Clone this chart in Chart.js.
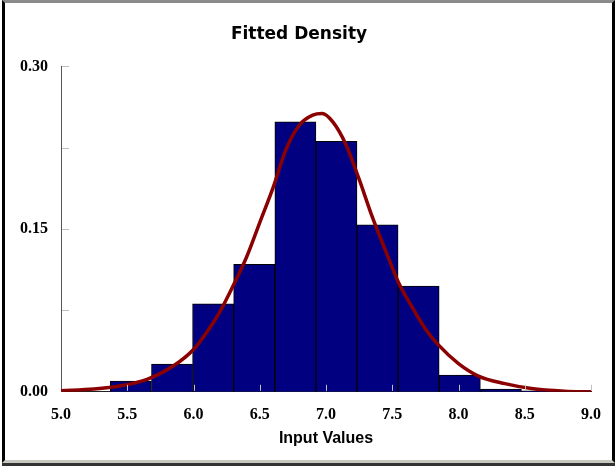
<!DOCTYPE html>
<html lang="en">
<head>
    <meta charset="UTF-8">
    <title>Fitted Density</title>
    <style>
        body {
            margin: 0;
            background: #fff;
        }
        .wrap {
            position: relative;
            width: 615px;
            height: 471px;
        }
        .frame {
            position: absolute;
            left: 2px;
            top: 0;
            width: 607px;
            height: 457px;
            border-left: 3px solid #000;
            border-right: 3px solid #000;
            border-top: 3px solid #8a8a8a;
            border-bottom: 3px solid #c8c8c0;
            box-shadow: 0 3px 0 #333;
            pointer-events: none;
        }
    </style>
</head>
<body>
    <div class="wrap">
        <canvas id="chart" width="615" height="471"></canvas>
        <div class="frame"></div>
    </div>

    <script src="https://cdn.jsdelivr.net/npm/chart.js"></script>
    <script>
        // histogram bins (centres) and relative frequencies
        const binCenters = [5.527, 5.838, 6.148, 6.458, 6.769, 7.079, 7.389, 7.699, 8.010, 8.320, 8.630];
        const binHeights = [0.0099, 0.0256, 0.081, 0.1176, 0.249, 0.231, 0.154, 0.0975, 0.0154, 0.0025, 0.0008];

        // fitted curve
        const curveX = [5.0, 5.25, 5.45, 5.65, 5.85, 6.0, 6.1, 6.2, 6.3, 6.4, 6.5, 6.6, 6.7, 6.8, 6.9, 6.97,
                        7.05, 7.15, 7.25, 7.35, 7.45, 7.55, 7.65, 7.75, 7.85, 8.0, 8.15, 8.35, 8.55, 8.8, 9.0];
        const curveY = [0.001, 0.0025, 0.0055, 0.0115, 0.024, 0.039, 0.055, 0.074, 0.098, 0.124, 0.156, 0.188, 0.224, 0.246, 0.255, 0.2565,
                        0.249, 0.228, 0.196, 0.161, 0.130, 0.100, 0.078, 0.058, 0.043, 0.026, 0.0145, 0.0075, 0.003, 0.0006, 0.0];

        const yLabelled = [0, 0.15, 0.30];

        // small tick marks drawn inside the plot area
        const innerTicks = {
            id: 'innerTicks',
            afterDatasetsDraw(chart) {
                const ctx = chart.ctx;
                const area = chart.chartArea;
                const xs = chart.scales.x;
                const ys = chart.scales.y;
                ctx.save();
                ctx.strokeStyle = '#c0c0c0';
                ctx.lineWidth = 1;
                ys.ticks.forEach(t => {
                    if (t.value === 0) return;
                    const py = Math.round(ys.getPixelForValue(t.value)) + 0.5;
                    ctx.beginPath();
                    ctx.moveTo(area.left + 1, py);
                    ctx.lineTo(area.left + 8, py);
                    ctx.stroke();
                });
                xs.ticks.forEach(t => {
                    if (t.value === 5) return;
                    const px = Math.round(xs.getPixelForValue(t.value)) + 0.5;
                    ctx.beginPath();
                    ctx.moveTo(px, area.bottom - 1);
                    ctx.lineTo(px, area.bottom - 7);
                    ctx.stroke();
                });
                ctx.restore();
            }
        };

        new Chart(document.getElementById('chart'), {
            data: {
                datasets: [{
                    type: 'line',
                    data: curveX.map((x, i) => ({x: x, y: curveY[i]})),
                    borderColor: '#8b0000',
                    borderWidth: 3.5,
                    pointRadius: 0,
                    cubicInterpolationMode: 'monotone',
                    order: 0
                }, {
                    type: 'bar',
                    data: binCenters.map((x, i) => ({x: x, y: binHeights[i]})),
                    backgroundColor: '#000080',
                    borderColor: '#000000',
                    borderWidth: 1,
                    barPercentage: 1,
                    categoryPercentage: 1,
                    order: 1
                }]
            },
            plugins: [innerTicks],
            options: {
                responsive: false,
                animation: false,
                layout: {
                    padding: {left: 7, right: 24, top: 10, bottom: 24}
                },
                plugins: {
                    legend: {display: false},
                    tooltip: {enabled: false},
                    title: {
                        display: true,
                        text: 'Fitted Density',
                        color: '#000',
                        font: {family: 'DejaVu Sans', size: 17, weight: 'bold'},
                        padding: {top: 14, bottom: 22}
                    }
                },
                scales: {
                    x: {
                        type: 'linear',
                        min: 5,
                        max: 9,
                        offset: false,
                        grid: {display: false, drawTicks: false},
                        border: {display: true, color: '#222', width: 1},
                        ticks: {
                            stepSize: 0.5,
                            color: '#000',
                            padding: 13,
                            maxRotation: 0,
                            font: {family: 'Liberation Serif', size: 16, weight: 'bold'},
                            callback: v => v.toFixed(1)
                        },
                        title: {
                            display: true,
                            text: 'Input Values',
                            color: '#000',
                            font: {family: 'Liberation Sans', size: 16, weight: 'bold', lineHeight: 1},
                            padding: {top: -6, bottom: 0}
                        }
                    },
                    y: {
                        min: 0,
                        max: 0.30,
                        grid: {display: false, drawTicks: false},
                        border: {display: true, color: '#555', width: 1},
                        ticks: {
                            stepSize: 0.075,
                            color: '#000',
                            padding: 13,
                            font: {family: 'Liberation Serif', size: 16, weight: 'bold'},
                            callback: v => yLabelled.some(l => Math.abs(l - v) < 1e-6) ? v.toFixed(2) : ''
                        }
                    }
                }
            }
        });
    </script>
</body>
</html>
